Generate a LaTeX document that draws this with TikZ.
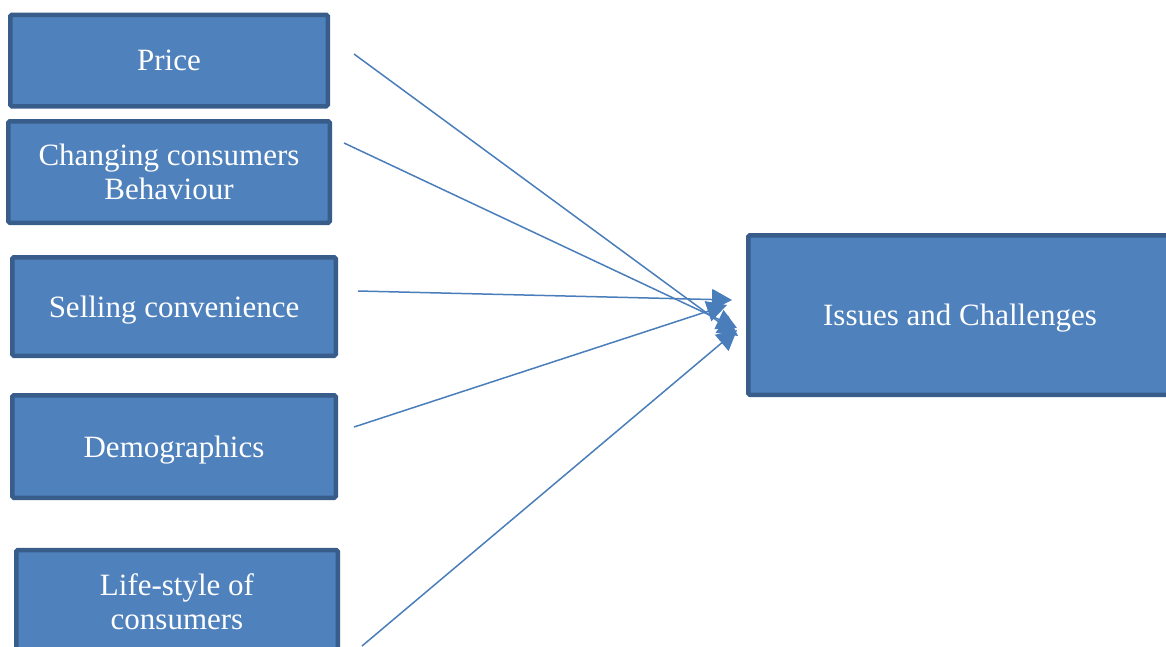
\documentclass[tikz,border=0pt]{standalone}
\usepackage{fontspec}
\setmainfont{Liberation Serif}
\usetikzlibrary{arrows.meta}
\definecolor{boxfill}{HTML}{4F81BD}
\definecolor{boxline}{HTML}{385D8A}
\definecolor{arrowcol}{HTML}{4A7EBB}
\begin{document}
\begin{tikzpicture}[x=1pt,y=-1pt,
  factor/.style={draw=boxline, fill=boxfill, line width=4.5pt, rounded corners=1.5pt,
    inner sep=0pt, align=center, text=white, text depth=0pt,
    font=\fontsize{31}{34}\selectfont},
  link/.style={draw=arrowcol, line width=1.5pt, -{Triangle[length=20pt,width=21pt]}}]
\useasboundingbox (0,0) rectangle (1166,646);
\clip (0,0) rectangle (1166,646);
\node[factor, minimum width=317.5pt, minimum height=91.5pt] (price) at (169,60.5) {Price};
\node[factor, minimum width=321.5pt, minimum height=101.5pt] (change) at (169,172) {Changing consumers\\Behaviour};
\node[factor, minimum width=323.5pt, minimum height=98.5pt] (sell) at (174,306.5) {Selling convenience};
\node[factor, minimum width=323.5pt, minimum height=102.5pt] (demo) at (174,446.5) {Demographics};
\node[factor, minimum width=321.5pt, minimum height=104pt] (life) at (177,602) {Life-style of\\consumers};
\node[factor, minimum width=423.5pt, minimum height=159.5pt] (issues) at (960,315) {Issues and Challenges};
\coordinate (p1) at (354,54);
\coordinate (p2) at (344,143);
\coordinate (p3) at (358,291);
\coordinate (p4) at (354,427);
\coordinate (p5) at (362,646);
\coordinate (t1) at (738,336);
\coordinate (t2) at (737,328);
\coordinate (t3) at (732,300);
\coordinate (t4) at (727,305);
\coordinate (t5) at (737,330);
\draw[link] (p1) -- (t1);
\draw[link] (p2) -- (t2);
\draw[link] (p3) -- (t3);
\draw[link] (p4) -- (t4);
\draw[link] (p5) -- (t5);
\end{tikzpicture}
\end{document}
